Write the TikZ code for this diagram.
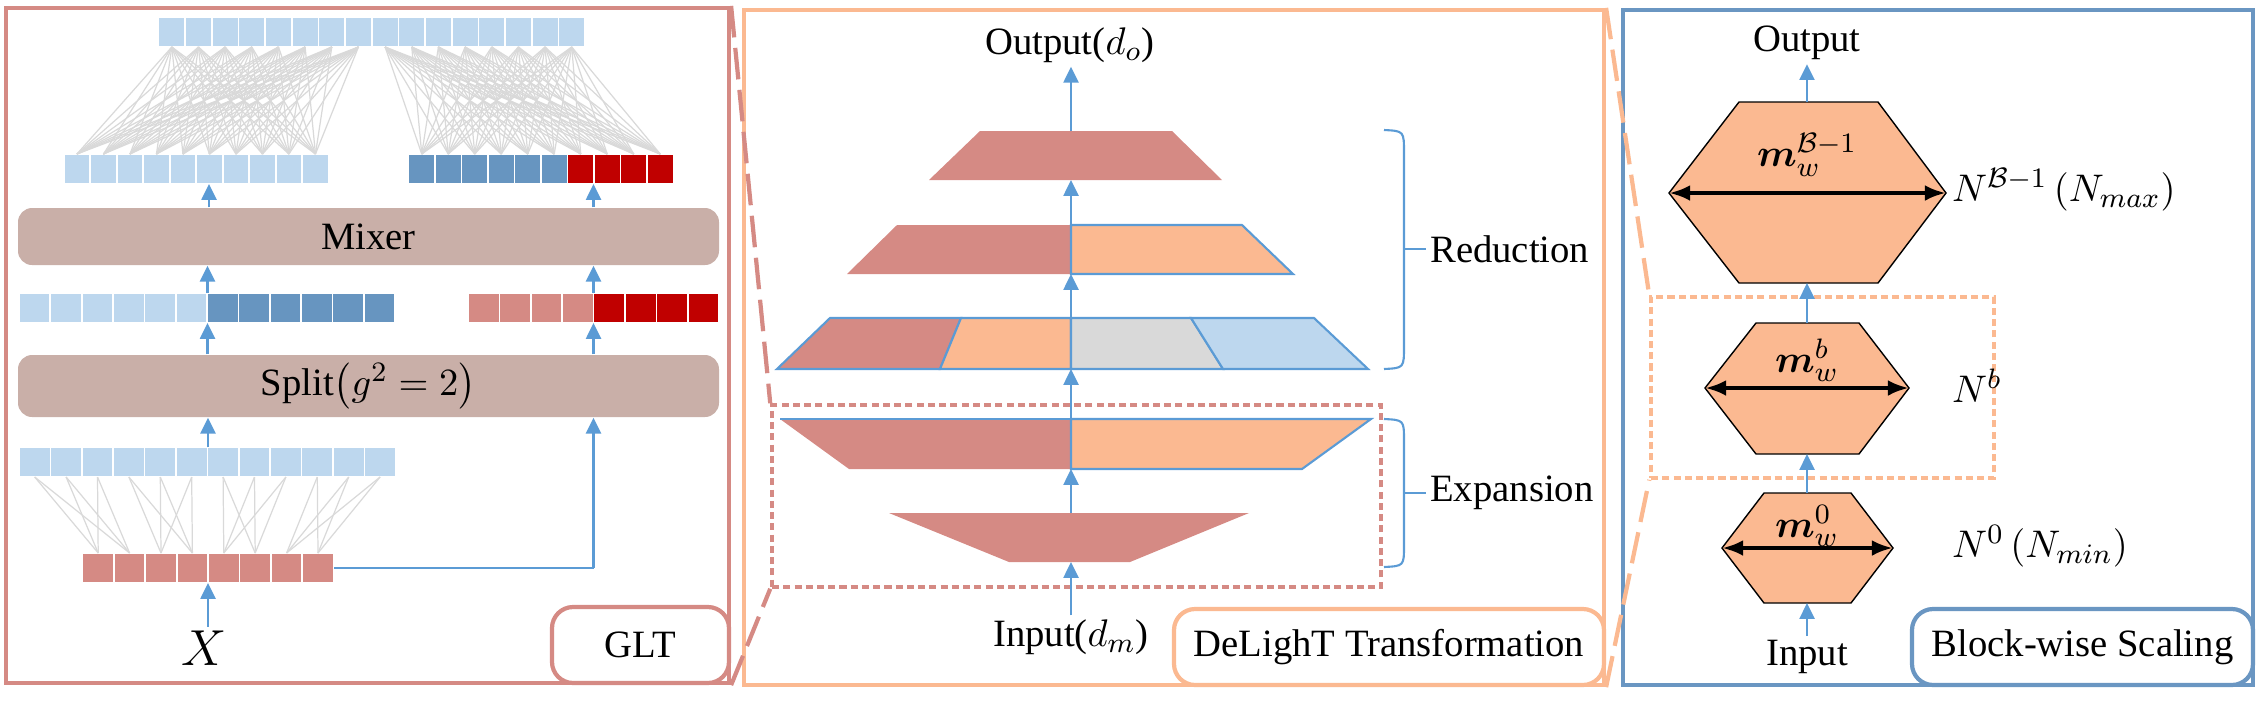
\documentclass[tikz,border=0pt]{standalone}
\usepackage{fontspec}
\setmainfont{Liberation Serif}
\usepackage{amsmath}
\usepackage{bm}
\usetikzlibrary{arrows.meta,calc}
\definecolor{gltred}{HTML}{D58A84}
\definecolor{darkred}{HTML}{C00000}
\definecolor{lightblue}{HTML}{BDD7EE}
\definecolor{steelblue}{HTML}{6795C0}
\definecolor{peach}{HTML}{FBB991}
\definecolor{greycell}{HTML}{D9D9D9}
\definecolor{mixbrown}{HTML}{C9AFA8}
\definecolor{flowblue}{HTML}{5B9BD5}
\definecolor{frameblue}{HTML}{6A96C2}
\tikzset{
	flow/.style={draw=flowblue,line width=0.8pt,-{Triangle[length=4.5pt,width=4.2pt]}},
	wire/.style={draw=greycell,line width=0.35pt},
	cellbox/.style={draw=white,line width=0.5pt},
	mixbox/.style={fill=mixbrown,rounded corners=4pt,minimum width=70.1mm,inner sep=0},
	tagbox/.style={draw=#1,line width=1.2pt,rounded corners=6pt,fill=white,minimum height=7.6mm,anchor=south east},
	panel/.style={draw=#1,line width=1.2pt,inner sep=0,minimum height=67.5mm},
	zoombox/.style={draw=#1,line width=1pt,dash pattern=on 2pt off 1.2pt,inner sep=0},
	zoomline/.style={draw=#1,line width=1.2pt,dash pattern=on 9pt off 3pt},
	edgeblue/.style={draw=flowblue,line width=0.6pt},
	hexa/.style={fill=peach,draw=black,line width=0.4pt},
	span/.style={line width=1.2pt,{Latex[length=6pt,width=4.5pt]}-{Latex[length=6pt,width=4.5pt]}}
}
\newcommand{\cellrow}[7]{% x0, top y, cell width, first, last, colour, name
	\foreach \i in {#4,...,#5}{
		\fill[#6,cellbox] ({#1+(\i-1)*#3},#2) rectangle +(#3,30);
		\coordinate (#7\i) at ({#1+(\i-0.5)*#3},#2);
	}}

\begin{document}
\begin{tikzpicture}[x=0.1mm,y=-0.1mm,font=\fontsize{11}{13}\selectfont,inner sep=1pt]
	\useasboundingbox (0,0) rectangle (2260,700);
	%PANELS
	\node[panel=gltred,minimum width=72.3mm] (gltframe) at (367.5,345.5) {};
	\node[panel=peach,minimum width=86mm] (dltframe) at (1174,347.5) {};
	\node[panel=frameblue,minimum width=63mm] (bwsframe) at (1938,347.5) {};
	
	%GLT
	\cellrow{158.5}{17}{26.66}{1}{16}{lightblue}{t}
	\cellrow{63.7}{154}{26.5}{1}{10}{lightblue}{a}
	\cellrow{408.5}{154}{26.5}{1}{6}{steelblue}{b}
	\cellrow{408.5}{154}{26.5}{7}{10}{darkred}{b}
	\foreach \i in {1,...,8}
		\foreach \j in {1,...,10}{
			\pgfmathtruncatemacro\tk{\i+8}
			\draw[wire] ($(t\i)+(0,30)$) -- (a\j);
			\draw[wire] ($(t\tk)+(0,30)$) -- (b\j);
		}
	\node[mixbox,minimum height=5.7mm] (mixer) at (368.5,236.5) {Mixer};
	\cellrow{19}{293}{31.35}{1}{6}{lightblue}{c}
	\cellrow{19}{293}{31.35}{7}{12}{steelblue}{c}
	\cellrow{468}{293}{31.4}{1}{4}{gltred}{d}
	\cellrow{468}{293}{31.4}{5}{8}{darkred}{d}
	\node[mixbox,minimum height=6.2mm] (split) at (368.5,386) {Split$\left(g^{2}=2\right)$};
	\cellrow{19}{447}{31.4}{1}{12}{lightblue}{e}
	\cellrow{82.5}{553}{31.4}{1}{8}{gltred}{f}
	\foreach \g in {0,...,3}
		\foreach \p in {1,2,3}
			\foreach \q in {1,2}{
				\pgfmathtruncatemacro\tk{3*\g+\p}
				\pgfmathtruncatemacro\bk{2*\g+\q}
				\draw[wire] ($(e\tk)+(0,30)$) -- (f\bk);
			}
	\node (x) at (204,648) {\fontsize{14}{16}\selectfont$X$};
	\coordinate (fin) at (208,583);
	\coordinate (eout) at (208,447);
	\coordinate (cinl) at (207.5,323);
	\coordinate (cinr) at (593.5,323);
	\coordinate (ainl) at (209,184);
	\coordinate (binr) at (593.5,184);
	\coordinate (fend) at (334,568);
	\coordinate (skip) at (593.5,568);
	\draw[flow] (fin |- x.north) -- (fin);
	\draw[flow] (eout) -- (eout |- split.south);
	\draw[flow] (cinl |- split.north) -- (cinl);
	\draw[flow] (cinr |- split.north) -- (cinr);
	\draw[flow] (cinl |- c1) -- (cinl |- mixer.south);
	\draw[flow] (cinr |- c1) -- (cinr |- mixer.south);
	\draw[flow] (ainl |- mixer.north) -- (ainl);
	\draw[flow] (binr |- mixer.north) -- (binr);
	\draw[flowblue,line width=0.6pt] (fend) -- (skip);
	\draw[flow] (skip) -- (skip |- split.south);
	\node[tagbox=gltred,minimum width=17.7mm] (glttag) at (gltframe.south east) {GLT};
	
	%DELIGHT
	\node[zoombox=gltred,minimum width=60.9mm,minimum height=18.2mm] (zoomexp) at (1076.5,496) {};
	\draw[zoomline=gltred] (gltframe.north east) -- (zoomexp.north west);
	\draw[zoomline=gltred] (gltframe.south east) -- (zoomexp.south west);
	\fill[gltred] (980,131) -- (1172,131) -- (1222,180) -- (929,180) -- cycle;
	\fill[gltred] (897,225) -- (1071,225) -- (1071,274) -- (847,274) -- cycle;
	\filldraw[fill=peach,edgeblue] (1071,225) -- (1242,225) -- (1293,274) -- (1071,274) -- cycle;
	\filldraw[fill=gltred,edgeblue] (830,318) -- (961,318) -- (940,369) -- (777,369) -- cycle;
	\filldraw[fill=peach,edgeblue] (961,318) -- (1071,318) -- (1071,369) -- (940,369) -- cycle;
	\filldraw[fill=greycell,edgeblue] (1071,318) -- (1191,318) -- (1223,369) -- (1071,369) -- cycle;
	\filldraw[fill=lightblue,edgeblue] (1191,318) -- (1314,318) -- (1368,369) -- (1223,369) -- cycle;
	\fill[gltred] (780,419) -- (1071,419) -- (1071,469) -- (849,469) -- cycle;
	\filldraw[fill=peach,edgeblue] (1071,419) -- (1371,419) -- (1302,469) -- (1071,469) -- cycle;
	\draw[edgeblue] (780,419) -- (1071,419);
	\fill[gltred] (889,513) -- (1249,513) -- (1130,562) -- (1009,562) -- cycle;
	\foreach \n/\top/\bot in {1/131/180,2/225/274,3/318/369,4/419/469,5/513/562}{
		\coordinate (r\n t) at (1071,\top);
		\coordinate (r\n b) at (1071,\bot);
	}
	\node (dout) at (1070,45) {Output($d_o$)};
	\node (dinp) at (1071,637) {Input($d_m$)};
	\draw[flow] (r5b |- dinp.north) -- (r5b);
	\draw[flow] (r5t) -- (r4b);
	\draw[flow] (r4t) -- (r3b);
	\draw[flow] (r3t) -- (r2b);
	\draw[flow] (r2t) -- (r1b);
	\draw[flow] (r1t) -- (r1t |- dout.south);
	\draw[edgeblue] (1384,130) .. controls (1404,131) .. (1404,153) -- (1404,346) .. controls (1404,368) .. (1384,369);
	\draw[edgeblue] (1384,419) .. controls (1404,420) .. (1404,441) -- (1404,545) .. controls (1404,566) .. (1384,567);
	\coordinate (redtip) at (1404,249);
	\coordinate (exptip) at (1404,493);
	\node[anchor=west] (reduc) at (1426,249) {Reduction};
	\node[anchor=west] (expan) at (1426,493) {Expansion};
	\draw[edgeblue] (redtip) -- (reduc.west);
	\draw[edgeblue] (exptip) -- (expan.west);
	\node[tagbox=peach,minimum width=43mm] (dlttag) at (dltframe.south east) {DeLighT Transformation};
	
	%BLOCK-WISE SCALING
	\node[zoombox=peach,minimum width=34.3mm,minimum height=18.1mm] (zoomblk) at (1822.5,387.5) {};
	\draw[zoomline=peach] (dltframe.north east) -- (zoomblk.north west);
	\draw[zoomline=peach] (dltframe.south east) -- (zoomblk.south west);
	\draw[hexa] (1669,193) coordinate (h1l) -- (1739,102) -- (1878,102) -- (1946,193) coordinate (h1r) -- (1878,283) -- (1739,283) -- cycle;
	\draw[hexa] (1705,388) coordinate (h2l) -- (1756,323) -- (1859,323) -- (1909,388) coordinate (h2r) -- (1859,454) -- (1756,454) -- cycle;
	\draw[hexa] (1722,548) coordinate (h3l) -- (1764,493) -- (1851,493) -- (1893,548) coordinate (h3r) -- (1851,603) -- (1764,603) -- cycle;
	\foreach \n/\top/\bot in {1/102/283,2/323/454,3/493/603}{
		\coordinate (h\n t) at (1807,\top);
		\coordinate (h\n b) at (1807,\bot);
		\draw[span] (h\n l) -- (h\n r);
	}
	\node (m1) at (1807,155) {$\bm{m}_w^{\mathcal{B}-1}$};
	\node (m2) at (1807,360) {$\bm{m}_w^{b}$};
	\node (m3) at (1807,526) {$\bm{m}_w^{0}$};
	\node[anchor=west] (n1) at (1948,190) {$N^{\mathcal{B}-1}\left(N_{max}\right)$};
	\node[anchor=west] (n2) at (1948,386) {$N^{b}$};
	\node[anchor=west] (n3) at (1948,546) {$N^{0}\left(N_{min}\right)$};
	\node (bout) at (1807,43) {Output};
	\node (binp) at (1807,657) {Input};
	\draw[flow] (binp.north) -- (h3b);
	\draw[flow] (h3t) -- (h2b);
	\draw[flow] (h2t) -- (h1b);
	\draw[flow] (h1t) -- (bout.south);
	\node[tagbox=frameblue,minimum width=34.1mm] (bwstag) at (bwsframe.south east) {Block-wise Scaling};
\end{tikzpicture}
\end{document}
